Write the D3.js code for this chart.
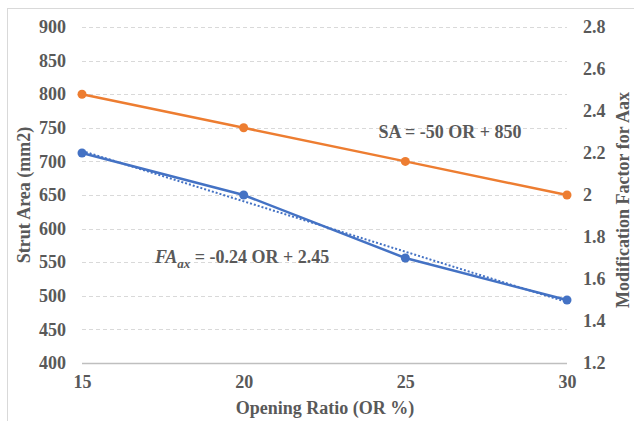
<!DOCTYPE html>
<html>
<head>
<meta charset="utf-8">
<script src="https://cdn.jsdelivr.net/npm/d3@7"></script>
</head>
<body style="margin:0">
<svg id="chart" width="634" height="421"></svg>
<script>
// chart data
var openingRatio = [15, 20, 25, 30];
var strutArea = [800, 750, 700, 650];
var modFactor = [2.2, 2.0, 1.7, 1.5];
var leftTicks = [400, 450, 500, 550, 600, 650, 700, 750, 800, 850, 900];
var rightTicks = [1.2, 1.4, 1.6, 1.8, 2.0, 2.2, 2.4, 2.6, 2.8];

var W = 634, H = 421;
var plot = { left: 82, right: 567, top: 27, bottom: 363 };
var TEXT_STYLE = "font-family:'Liberation Serif';font-weight:bold;font-size:18px;fill:#595959";

var svg = d3.select("#chart");

// outer frame
svg.append("rect")
    .attr("x", 7.5).attr("y", 8.5)
    .attr("width", W).attr("height", H)
    .attr("fill", "none")
    .attr("stroke", "#d9d9d9");

// scales
var x = d3.scalePoint()
    .domain(openingRatio)
    .range([plot.left, plot.right]);

var yLeft = d3.scaleLinear()
    .domain([400, 900])
    .range([plot.bottom, plot.top]);

var yRight = d3.scaleLinear()
    .domain([1.2, 2.8])
    .range([plot.bottom, plot.top]);

function styleText(sel) {
    sel.attr("font-family", "Liberation Serif")
        .attr("style", TEXT_STYLE);
}

// gridlines
svg.append("g")
    .selectAll("line")
    .data(leftTicks.slice(1))
    .enter()
    .append("line")
    .attr("x1", plot.left).attr("x2", plot.right)
    .attr("y1", function(d) { return Math.round(yLeft(d)) + 0.5; })
    .attr("y2", function(d) { return Math.round(yLeft(d)) + 0.5; })
    .attr("stroke", "#d9d9d9")
    .attr("stroke-dasharray", "4,3");

// left axis
var gl = svg.append("g")
    .attr("transform", "translate(" + plot.left + ",0)")
    .call(d3.axisLeft(yLeft).tickValues(leftTicks).tickSize(0).tickPadding(16));
gl.select(".domain").remove();
styleText(gl.selectAll("text"));

// right axis
var gr = svg.append("g")
    .attr("transform", "translate(" + plot.right + ",0)")
    .call(d3.axisRight(yRight).tickValues(rightTicks).tickSize(0).tickPadding(16)
        .tickFormat(function(d) { return d3.format("")(+d.toFixed(1)); }));
gr.select(".domain").remove();
styleText(gr.selectAll("text"));

// bottom axis
var gb = svg.append("g")
    .attr("transform", "translate(0," + plot.bottom + ")")
    .call(d3.axisBottom(x).tickSize(0).tickPadding(12));
gb.select(".domain").remove();
styleText(gb.selectAll("text"));
svg.append("line")
    .attr("x1", plot.left).attr("x2", plot.right)
    .attr("y1", plot.bottom + 0.5).attr("y2", plot.bottom + 0.5)
    .attr("stroke", "#bfbfbf")
    .attr("stroke-width", 1.5);

// axis titles
styleText(svg.append("text")
    .attr("x", 325).attr("y", 414)
    .attr("text-anchor", "middle")
    .text("Opening Ratio (OR %)"));

styleText(svg.append("text")
    .attr("transform", "translate(30,195) rotate(-90)")
    .attr("text-anchor", "middle")
    .text("Strut Area (mm2)"));

styleText(svg.append("text")
    .attr("transform", "translate(629,200) rotate(-90)")
    .attr("text-anchor", "middle")
    .text("Modification  Factor for Aax"));

// trendline for modification factor (least squares on point index, like Excel)
var idx = openingRatio.map(function(d, i) { return i + 1; });
var mx = d3.mean(idx), my = d3.mean(modFactor);
var slope = d3.sum(idx, function(d, i) { return (d - mx) * (modFactor[i] - my); }) /
            d3.sum(idx, function(d) { return (d - mx) * (d - mx); });
var intercept = my - slope * mx;

svg.append("path")
    .datum(openingRatio)
    .attr("fill", "none")
    .attr("stroke", "#4472c4")
    .attr("stroke-width", 2)
    .attr("stroke-dasharray", "2,2")
    .attr("d", d3.line()
        .x(function(d) { return x(d); })
        .y(function(d, i) { return yRight(intercept + slope * (i + 1)); }));

// series lines
var lineLeft = d3.line()
    .x(function(d, i) { return x(openingRatio[i]); })
    .y(function(d) { return yLeft(d); });
var lineRight = d3.line()
    .x(function(d, i) { return x(openingRatio[i]); })
    .y(function(d) { return yRight(d); });

svg.append("path")
    .datum(strutArea)
    .attr("fill", "none")
    .attr("stroke", "#ed7d31")
    .attr("stroke-width", 2.5)
    .attr("d", lineLeft);

svg.append("path")
    .datum(modFactor)
    .attr("fill", "none")
    .attr("stroke", "#4472c4")
    .attr("stroke-width", 2.5)
    .attr("d", lineRight);

svg.selectAll(".dotSA")
    .data(strutArea)
    .enter()
    .append("circle")
    .attr("class", "dotSA")
    .attr("cx", function(d, i) { return x(openingRatio[i]); })
    .attr("cy", function(d) { return yLeft(d); })
    .attr("r", 4.5)
    .attr("fill", "#ed7d31");

svg.selectAll(".dotFA")
    .data(modFactor)
    .enter()
    .append("circle")
    .attr("class", "dotFA")
    .attr("cx", function(d, i) { return x(openingRatio[i]); })
    .attr("cy", function(d) { return yRight(d); })
    .attr("r", 4.5)
    .attr("fill", "#4472c4");

// equation labels
styleText(svg.append("text")
    .attr("x", 450).attr("y", 138)
    .attr("text-anchor", "middle")
    .text("SA = -50 OR + 850"));

var fa = svg.append("text")
    .attr("x", 155).attr("y", 263);
styleText(fa);
fa.append("tspan").attr("style", "font-style:italic").text("FA");
fa.append("tspan").attr("style", "font-style:italic;font-size:13px")
    .attr("dy", 5).text("ax");
fa.append("tspan").attr("dy", -5).text(" = -0.24 OR + 2.45");
</script>
</body>
</html>
